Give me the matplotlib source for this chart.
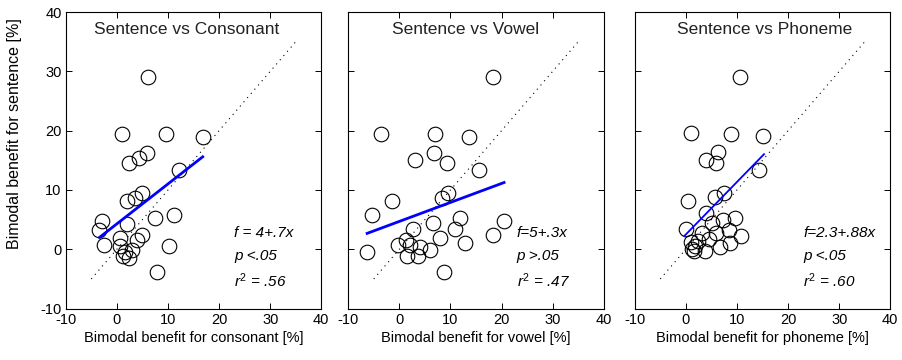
import numpy as np
import matplotlib
matplotlib.use("Agg")
import matplotlib.pyplot as plt

plt.rcParams["font.family"] = ["Liberation Sans", "DejaVu Sans"]
plt.rcParams["mathtext.fontset"] = "custom"
plt.rcParams["mathtext.rm"] = "Liberation Sans"
plt.rcParams["mathtext.it"] = "Liberation Sans:italic"
plt.rcParams["axes.unicode_minus"] = False

# bimodal benefit for sentence (y) against consonant / vowel / phoneme (x)
cons_x = [6.0, 1.0, 9.7, 16.8, 5.9, 4.3, 2.4, 12.2, 4.9, 3.6, 2.0, 7.5, 11.1,
          -2.9, -3.5, 2.0, -2.6, 4.9, 3.9, 0.7, 0.7, 1.6, 2.9, 1.3, 2.3, 10.2, 7.9]
cons_y = [29.1, 19.4, 19.4, 19.0, 16.3, 15.4, 14.6, 13.4, 9.5, 8.7, 8.2, 5.2, 5.8,
          4.8, 3.3, 4.3, 0.7, 2.4, 1.6, 1.9, 0.5, -0.4, -0.1, -1.2, -1.5, 0.6, -3.8]

vow_x = [18.3, -3.5, 7.0, 13.6, 6.8, 3.1, 9.3, 15.5, 9.6, 8.3, -1.5, -5.4, 11.9,
         20.4, 6.5, 10.9, 2.7, 8.0, 12.9, 18.4, -0.2, 2.1, -6.3, 4.0, 6.0, 1.6, 3.7, 8.7, 1.4]
vow_y = [29.1, 19.4, 19.4, 19.0, 16.3, 15.1, 14.5, 13.4, 9.5, 8.7, 8.2, 5.8, 5.2,
         4.8, 4.5, 3.5, 3.4, 1.9, 1.1, 2.4, 0.7, 0.7, -0.4, 0.45, -0.1, -1.2, -1.2, -3.8, 1.6]

phon_x = [10.6, 1.0, 8.8, 15.1, 6.2, 3.9, 6.0, 14.3, 7.4, 5.8, 0.45, 3.9, 9.7,
          7.3, 5.2, 0.1, 8.4, 10.7, 3.1, 6.0, 4.5, 8.7, 6.6, 3.7, 1.0, 1.8, 1.2, 2.4, 1.6]
phon_y = [29.1, 19.6, 19.4, 19.1, 16.4, 15.1, 14.6, 13.3, 9.5, 8.9, 8.2, 6.1, 5.2,
          5.0, 4.5, 3.4, 3.3, 2.3, 2.7, 2.7, 1.7, 1.0, 0.45, -0.3, 1.2, 0.6, 0.0, 1.4, -0.3]

titles = ["Sentence vs Consonant", "Sentence vs Vowel", "Sentence vs Phoneme"]
xlabels = ["Bimodal benefit for consonant [%]", "Bimodal benefit for vowel [%]",
           "Bimodal benefit for phoneme [%]"]
fit_text = ["f = 4+.7x", "f=5+.3x", "f=2.3+.88x"]
p_text = ["p <.05", "p >.05", "p <.05"]
r2_text = [".56", ".47", ".60"]

# regression lines as drawn
intercepts = [4.29, 4.7, 2.5]
slopes = [0.673, 0.32, 0.885]
fit_range = [(-3.4, 16.8), (-6.3, 20.5), (-0.3, 15.3)]

xs = [cons_x, vow_x, phon_x]
ys = [cons_y, vow_y, phon_y]
title_x = [13.7, 13.0, 15.4]
line_w = [2.0, 2.0, 1.3]

fig = plt.figure(figsize=(9.03, 3.6), dpi=100)
lefts = [0.0728, 0.3856, 0.7029]

for i in range(3):
    ax = fig.add_axes([lefts[i], 0.1428, 0.2830, 0.8236])
    ax.plot([-5, 35], [-5, 35], color="black", linestyle=(0, (1, 4)), lw=0.8)
    ax.plot(xs[i], ys[i], "o", mfc="none", mec="black", ms=10.5, mew=0.8)
    lx = np.array(fit_range[i])
    ax.plot(lx, intercepts[i] + slopes[i] * lx, color="blue", lw=line_w[i])

    ax.set_xlim(-10, 40)
    ax.set_ylim(-10, 40)
    ax.set_xticks(range(-10, 41, 10))
    ax.set_yticks(range(-10, 41, 10))
    ax.tick_params(direction="in", top=True, right=True, length=4,
                   labelsize=10.5, width=0.7, pad=3)
    for s in ax.spines.values():
        s.set_linewidth(0.8)
    if i > 0:
        ax.set_yticklabels([])
    else:
        ax.set_ylabel("Bimodal benefit for sentence [%]", fontsize=11.5)
        ax.yaxis.set_label_coords(-0.17, 0.59)
    ax.set_xlabel(xlabels[i], fontsize=10.5, labelpad=3)

    ax.text(title_x[i], 37, titles[i], ha="center", va="center", fontsize=12.5,
            color="#222222")
    ax.text(23, 2.7, fit_text[i], fontsize=11, style="italic", va="center")
    ax.text(23, -1.2, p_text[i], fontsize=11, style="italic", va="center")
    ax.text(23, -5.3, "$r^2$ = " + r2_text[i], fontsize=11, style="italic",
            va="center")

fig.savefig("out.png", dpi=100)
